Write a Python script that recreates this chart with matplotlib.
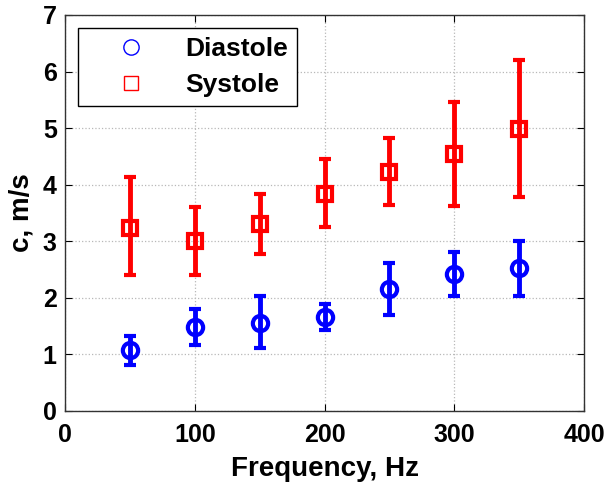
import numpy as np
import matplotlib.pyplot as plt
from matplotlib.lines import Line2D

freq = [50, 100, 150, 200, 250, 300, 350]

dia_mean = [1.08, 1.48, 1.56, 1.67, 2.15, 2.43, 2.52]
dia_low = [0.81, 1.17, 1.11, 1.43, 1.70, 2.04, 2.04]
dia_high = [1.33, 1.81, 2.03, 1.90, 2.61, 2.81, 3.01]

sys_mean = [3.24, 3.01, 3.30, 3.83, 4.23, 4.55, 4.99]
sys_low = [2.40, 2.40, 2.77, 3.26, 3.64, 3.62, 3.79]
sys_high = [4.14, 3.61, 3.83, 4.45, 4.82, 5.46, 6.20]

plt.rcParams['font.family'] = ['Liberation Sans', 'DejaVu Sans']
plt.rcParams['font.weight'] = 'bold'

fig = plt.figure(figsize=(6.11, 4.88), dpi=100)
ax = fig.add_axes([0.1064, 0.1578, 0.8494, 0.8115])

def errs(m, lo, hi):
    m = np.array(m)
    return [m - np.array(lo), np.array(hi) - m]

ax.errorbar(freq, dia_mean, yerr=errs(dia_mean, dia_low, dia_high), fmt='o',
            color='#0000ff', mfc='none', mec='#0000ff', ms=11, mew=3,
            elinewidth=3.5, capsize=4, capthick=3.5, zorder=3)
ax.errorbar(freq, sys_mean, yerr=errs(sys_mean, sys_low, sys_high), fmt='s',
            color='#ff0000', mfc='none', mec='#ff0000', ms=10, mew=3,
            elinewidth=3.5, capsize=4, capthick=3.5, zorder=3)

ax.set_xlim(0, 400)
ax.set_ylim(0, 7)
ax.set_xticks([0, 100, 200, 300, 400])
ax.set_yticks(range(0, 8))
ax.grid(True, linestyle=':', color='#b8b8b8', linewidth=0.9)
ax.tick_params(direction='in', top=True, right=True, labelsize=18, length=5)
ax.tick_params(axis='x', pad=9)
ax.tick_params(axis='y', pad=6)
for s in ax.spines.values():
    s.set_linewidth(1.0)
    s.set_color('#333333')

ax.set_xlabel('Frequency, Hz', fontsize=20, fontweight='bold', labelpad=6)
ax.set_ylabel('c, m/s', fontsize=20, fontweight='bold', labelpad=6)

handles = [Line2D([], [], ls='none', marker='o', mfc='none', mec='#0000ff', ms=11, mew=1),
           Line2D([], [], ls='none', marker='s', mfc='none', mec='#ff0000', ms=10, mew=1)]
leg = ax.legend(handles, ['Diastole', 'Systole'], loc='upper left', fontsize=19,
                fancybox=False, edgecolor='black', framealpha=1,
                handlelength=3.3, handletextpad=0.4, borderpad=0.35,
                labelspacing=0.45, borderaxespad=0,
                bbox_to_anchor=(0.025, 0.967))
leg.get_frame().set_linewidth(1.0)

fig.savefig('out.png', dpi=100)
